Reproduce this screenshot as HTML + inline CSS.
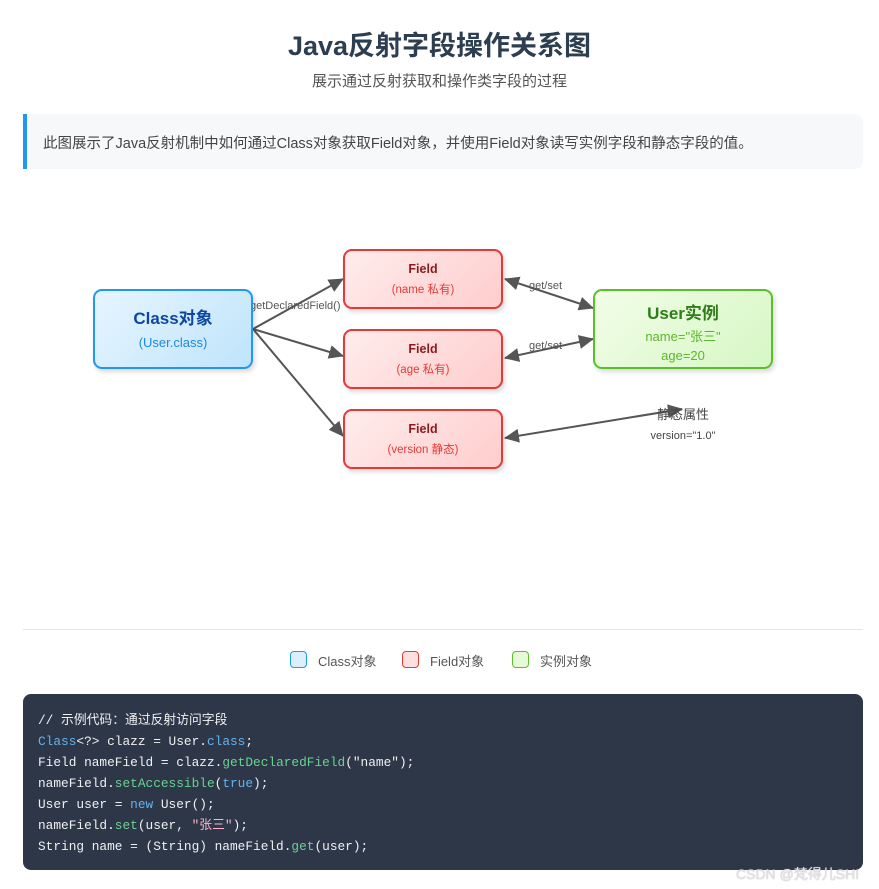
<!DOCTYPE html>
<html><head><meta charset="utf-8"><style>
*{margin:0;padding:0;box-sizing:border-box}
body{width:879px;height:889px;background:#fff;font-family:"Liberation Sans","Noto Sans CJK SC",sans-serif;position:relative;overflow:hidden;color:#2c3e50}
.a{position:absolute}
h1{position:absolute;left:0;width:879px;top:24px;text-align:center;font-size:27px;font-weight:bold;color:#2c3e50}
.sub{left:0;width:879px;top:70px;text-align:center;font-size:15px;color:#555}
.info{left:23px;top:114px;width:840px;height:55px;background:#f6f8fa;border-left:4px solid #2196f3;border-radius:0 8px 8px 0;font-size:14.5px;color:#444;padding:18px 0 0 16px}
.box{position:absolute;border-radius:9px;text-align:center;box-shadow:2px 3px 5px rgba(0,0,0,.15)}
.cls{left:93px;top:289px;width:160px;height:80px;border:2px solid #2196f3;background:linear-gradient(135deg,#e6f5ff,#bfe4fb)}
.fld{width:160px;height:60px;left:343px;border:2px solid #e53935;background:linear-gradient(135deg,#ffecec,#ffcdcd)}
.usr{left:593px;top:289px;width:180px;height:80px;border:2px solid #5ac02a;background:linear-gradient(135deg,#f2fde8,#d6f7c4)}
.code{left:23px;top:694px;width:840px;height:176px;background:#2d3748;border-radius:8px;color:#f0f0f0;font-family:"Liberation Mono","Noto Sans CJK SC",monospace;font-size:12.8px;line-height:21px;padding:16px 0 0 15px;white-space:pre}
.k{color:#63b3ed}.f{color:#68d391}.s{color:#fbb6ce}
.lg{top:651px;width:17px;height:17px;border-radius:4px}
.lt{top:651px;font-size:13px;color:#555}
</style></head><body>
<h1>Java反射字段操作关系图</h1>
<div class="a sub">展示通过反射获取和操作类字段的过程</div>
<div class="a info">此图展示了Java反射机制中如何通过Class对象获取Field对象，并使用Field对象读写实例字段和静态字段的值。</div>

<svg class="a" style="left:0;top:0" width="879" height="600">
<defs><marker id="m" markerWidth="15" markerHeight="14" refX="14" refY="7" orient="auto-start-reverse" markerUnits="userSpaceOnUse"><path d="M0,0 L15,7 L0,14 z" fill="#555"/></marker></defs>
<g stroke="#555" stroke-width="2" fill="none">
<line x1="253" y1="329" x2="343" y2="279" marker-end="url(#m)"/>
<line x1="253" y1="329" x2="343" y2="356" marker-end="url(#m)"/>
<line x1="253" y1="329" x2="343" y2="436" marker-end="url(#m)"/>
<line x1="505" y1="279" x2="593" y2="308" marker-start="url(#m)" marker-end="url(#m)"/>
<line x1="505" y1="358" x2="593" y2="339" marker-start="url(#m)" marker-end="url(#m)"/>
<line x1="505" y1="438" x2="682" y2="409" marker-start="url(#m)" marker-end="url(#m)"/>
</g>
<g font-size="11" fill="#555" font-family="Liberation Sans,sans-serif">
<text x="250" y="309">getDeclaredField()</text>
<text x="529" y="289">get/set</text>
<text x="529" y="349">get/set</text>
</g>
<text x="683" y="419" font-size="13" fill="#444" text-anchor="middle" font-family="Liberation Sans,Noto Sans CJK SC,sans-serif">静态属性</text>
<text x="683" y="439" font-size="11" fill="#444" text-anchor="middle" font-family="Liberation Sans,sans-serif">version="1.0"</text>
</svg>

<div class="box cls"><div style="margin-top:13px;font-size:17px;font-weight:bold;color:#0d47a1">Class对象</div><div style="margin-top:6px;font-size:13px;color:#1e88e5">(User.class)</div></div>
<div class="box fld" style="top:249px"><div style="margin-top:11px;font-size:12.5px;font-weight:bold;color:#8b1a1a">Field</div><div style="margin-top:5px;font-size:11.5px;color:#e53935">(name 私有)</div></div>
<div class="box fld" style="top:329px"><div style="margin-top:11px;font-size:12.5px;font-weight:bold;color:#8b1a1a">Field</div><div style="margin-top:5px;font-size:11.5px;color:#e53935">(age 私有)</div></div>
<div class="box fld" style="top:409px"><div style="margin-top:11px;font-size:12.5px;font-weight:bold;color:#8b1a1a">Field</div><div style="margin-top:5px;font-size:11.5px;color:#e53935">(version 静态)</div></div>
<div class="box usr"><div style="margin-top:8px;font-size:17px;font-weight:bold;color:#2e7d18">User实例</div><div style="margin-top:2px;font-size:13px;color:#5ab82a">name="张三"</div><div style="margin-top:3px;font-size:13px;color:#5ab82a">age=20</div></div>

<div class="a" style="left:23px;top:629px;width:840px;height:1px;background:#e6e6e6"></div>
<div class="a lg" style="left:290px;border:1px solid #2196f3;background:#dcf0fc"></div><div class="a lt" style="left:318px">Class对象</div>
<div class="a lg" style="left:402px;border:1px solid #e53935;background:#ffe0e0"></div><div class="a lt" style="left:430px">Field对象</div>
<div class="a lg" style="left:512px;border:1px solid #5ac02a;background:#e6fad8"></div><div class="a lt" style="left:540px">实例对象</div>

<div class="a code">// 示例代码：通过反射访问字段
<span class="k">Class</span>&lt;?&gt; clazz = User.<span class="k">class</span>;
Field nameField = clazz.<span class="f">getDeclaredField</span>("name");
nameField.<span class="f">setAccessible</span>(<span class="k">true</span>);
User user = <span class="k">new</span> User();
nameField.<span class="f">set</span>(user, <span class="s">"张三"</span>);
String name = (String) nameField.<span class="f">get</span>(user);</div>
<div class="a" style="left:736px;top:864px;font-size:14px;color:#e4e4e4;text-shadow:0 0 1px #aaa">CSDN @梵得儿SHI</div>
</body></html>
